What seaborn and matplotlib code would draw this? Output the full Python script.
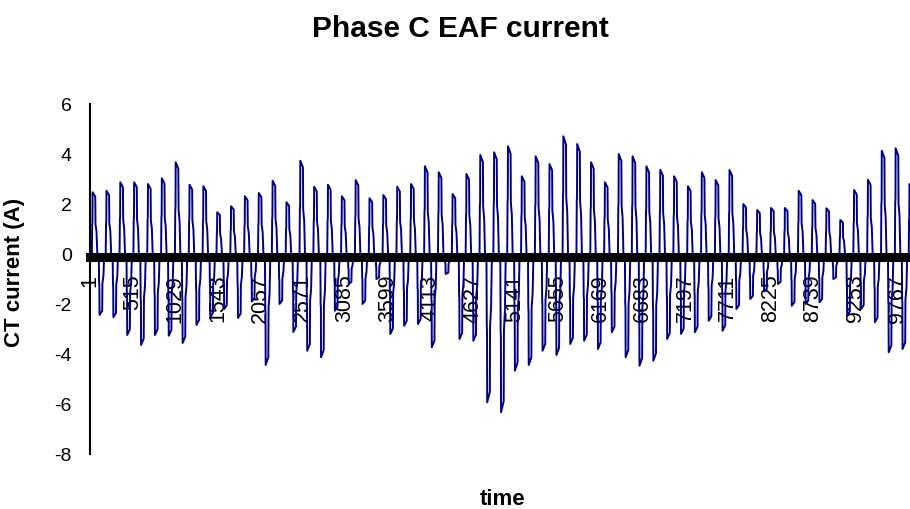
import matplotlib
matplotlib.use("Agg")
import matplotlib.pyplot as plt
import numpy as np
import pandas as pd
import seaborn as sns

# Peak current of each cycle (A): positive half and negative half
pos_peaks = [2.47, 2.53, 2.87, 2.87, 2.80, 3.03, 3.67, 2.77, 2.71, 1.67,
             1.91, 2.31, 2.44, 2.93, 2.07, 3.73, 2.69, 2.77, 2.31, 2.96,
             2.23, 2.36, 2.69, 2.80, 3.51, 3.27, 2.40, 3.20, 3.96, 4.07,
             4.31, 3.11, 3.91, 3.60, 4.71, 4.40, 3.67, 2.87, 4.00, 3.91,
             3.51, 3.37, 3.11, 2.71, 3.27, 2.96, 3.36, 2.00, 1.76, 1.84,
             1.84, 2.53, 2.16, 1.83, 1.36, 2.56, 2.97, 4.13, 4.23, 2.80]
neg_peaks = [-2.44, -2.53, -3.24, -3.64, -3.24, -3.27, -3.56, -2.84, -2.53, -2.20,
             -2.56, -1.90, -4.44, -2.00, -3.12, -3.87, -4.13, -2.27, -1.20, -2.00,
             -1.00, -3.20, -2.87, -2.80, -3.73, -0.80, -3.40, -3.47, -5.93, -6.33,
             -4.67, -4.44, -3.87, -4.04, -3.60, -3.47, -3.80, -3.13, -4.13, -4.47,
             -4.27, -3.40, -3.20, -3.13, -2.67, -3.07, -2.20, -1.80, -1.50, -1.20,
             -2.07, -2.00, -1.93, -1.00, -2.47, -2.20, -2.73, -3.93, -3.80, -2.50]

# Category labels shown along the time axis (sample numbers)
tick_samples = [1, 515, 1029, 1543, 2057, 2571, 3085, 3599, 4113, 4627,
                5141, 5655, 6169, 6683, 7197, 7711, 8225, 8739, 9253, 9767]

samples_per_cycle = 167.4
first_peak_sample = 37

# Outline of one half cycle around its peak: sample offsets and fraction of the peak
half_offsets = [-14, -10, -7, -5, 27, 30, 42, 52]
half_shape = [0.0, 0.48, 0.52, 1.0, 0.93, 0.48, 0.36, 0.0]

rows = []
for k, (p, n) in enumerate(zip(pos_peaks, neg_peaks)):
    centre = first_peak_sample + k * samples_per_cycle
    for off, f in zip(half_offsets, half_shape):
        rows.append((centre + off, f * p))
    for off, f in zip(half_offsets, half_shape):
        rows.append((centre + samples_per_cycle / 2 + off, f * n))
wave = pd.DataFrame(rows, columns=["sample", "current"])

sns.set_style("white")
plt.rcParams["font.family"] = ["Liberation Sans", "DejaVu Sans"]
plt.rcParams["axes.unicode_minus"] = False
plt.rcParams["text.color"] = "black"
plt.rcParams["axes.labelcolor"] = "black"

fig = plt.figure(figsize=(9.1, 5.1), dpi=100)
ax = fig.add_axes([90 / 910, 55 / 510, 820 / 910, 350 / 510])

sns.lineplot(data=wave, x="sample", y="current", ax=ax, color="#000080",
             linewidth=1.4, estimator=None, sort=False)

ax.set_xlim(0.5, 9915)
ax.set_ylim(-8, 6)
ax.set_yticks(range(-8, 7, 2))
ax.set_xticks(tick_samples)
ax.set_xticklabels([str(t) for t in tick_samples])

for side in ("top", "right"):
    ax.spines[side].set_visible(False)
ax.spines["left"].set_color("black")
ax.spines["left"].set_linewidth(1.5)
ax.spines["bottom"].set_position(("data", -0.12))
ax.spines["bottom"].set_color("black")
ax.spines["bottom"].set_linewidth(6.5)
ax.spines["bottom"].set_zorder(3)

ax.tick_params(axis="y", direction="out", length=4, width=1.5, pad=9,
               labelsize=14, colors="black")
ax.tick_params(axis="x", length=0, pad=12, labelsize=15.5,
               labelrotation=90, colors="black")
for lbl in ax.get_xticklabels():
    lbl.set_zorder(1)

ax.set_xlabel("")
ax.set_ylabel("CT current (A)", fontsize=16, fontweight="bold", color="black")
ax.yaxis.set_label_coords(-0.079, 0.523)

fig.text(460 / 910, 1 - 37 / 510, "Phase C EAF current", ha="center",
         va="baseline", fontsize=21.5, fontweight="bold", color="black")
fig.text(503 / 910, 1 - 505 / 510, "time", ha="center", va="baseline",
         fontsize=16, fontweight="bold", color="black")

fig.savefig("out.png", dpi=100, facecolor="white")
